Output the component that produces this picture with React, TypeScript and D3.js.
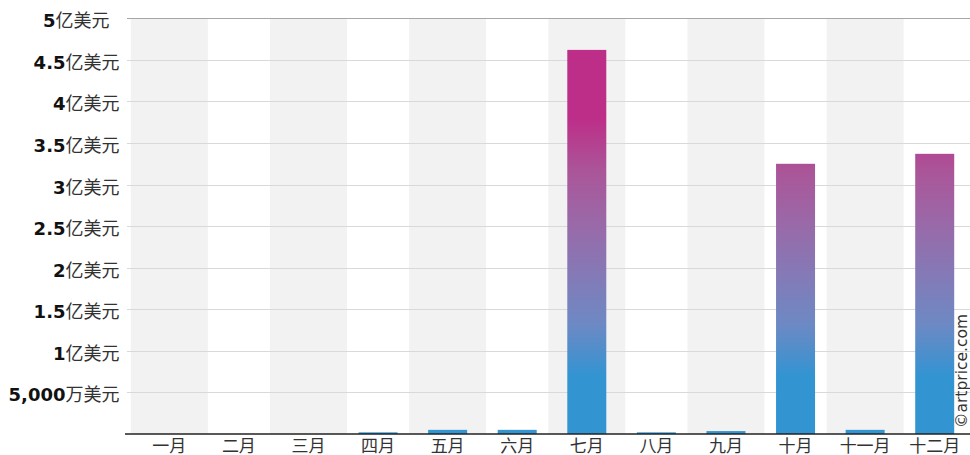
import React from "react";
import * as d3 from "d3";

const months = ["一月", "二月", "三月", "四月", "五月", "六月", "七月", "八月", "九月", "十月", "十一月", "十二月"];
const sales = [0, 0, 0, 2000000, 5000000, 5000000, 462000000, 2000000, 3500000, 325000000, 5000000, 337000000];
const tickValues = [50000000, 100000000, 150000000, 200000000, 250000000, 300000000, 350000000, 400000000, 450000000, 500000000];
const tickNumbers = ["5,000", "1", "1.5", "2", "2.5", "3", "3.5", "4", "4.5", "5"];
const tickUnits = ["万美元", "亿美元", "亿美元", "亿美元", "亿美元", "亿美元", "亿美元", "亿美元", "亿美元", "亿美元"];
const gradientStops = [
  { offset: 0, color: "#BD2E88" },
  { offset: 0.21, color: "#AA5699" },
  { offset: 0.41, color: "#9A69A8" },
  { offset: 0.6, color: "#8579B6" },
  { offset: 0.8, color: "#6D89C4" },
  { offset: 1, color: "#3394D2" },
];

const W = 970;
const H = 455;
const FONT = "Verdana, 'DejaVu Sans', 'Noto Sans CJK SC', sans-serif";
const CJK = "'Noto Sans CJK SC', sans-serif";

export default function App() {
  const x = d3.scaleBand<string>().domain(months).range([134.5, 969.5]).padding(0);
  const y = d3.scaleLinear().domain([0, 500000000]).range([434, 18.3]);
  const step = x.step();
  const barW = 39;
  const bandW = 77;
  const gy1 = y(380000000);
  const gy2 = y(70000000);

  return (
    <svg
      width={W}
      height={H}
      style={{ position: "absolute", left: 0, top: 0, background: "#fff" }}
      fontFamily={FONT}
    >
      <defs>
        <linearGradient id="barGrad" gradientUnits="userSpaceOnUse" x1={0} x2={0} y1={gy1} y2={gy2}>
          {gradientStops.map((s, i) => (
            <stop key={i} offset={s.offset} stopColor={s.color} />
          ))}
        </linearGradient>
        <clipPath id="plotClip">
          <rect x={130} y={18} width={W - 130} height={416} />
        </clipPath>
      </defs>

      {/* alternating bands */}
      <g clipPath="url(#plotClip)">
        {months.map((m, i) =>
          i % 2 === 0 ? (
            <rect
              key={m}
              x={(x(m) as number) + step / 2 - bandW / 2}
              y={y(500000000)}
              width={bandW}
              height={y(0) - y(500000000)}
              fill="#F2F2F2"
            />
          ) : null
        )}
      </g>

      {/* gridlines */}
      {tickValues.map((v, i) => (
        <line
          key={v}
          x1={127}
          x2={W}
          y1={Math.round(y(v)) + 0.5}
          y2={Math.round(y(v)) + 0.5}
          stroke={i === tickValues.length - 1 ? "#A6A6A6" : "#D9D9D9"}
          strokeWidth={1}
        />
      ))}

      {/* bars */}
      {months.map((m, i) =>
        sales[i] > 0 ? (
          <rect
            key={m}
            x={(x(m) as number) + step / 2 - barW / 2}
            y={y(sales[i])}
            width={barW}
            height={y(0) - y(sales[i])}
            fill="url(#barGrad)"
          />
        ) : null
      )}

      {/* x axis line */}
      <line x1={125} x2={W} y1={y(0)} y2={y(0)} stroke="#222" strokeWidth={1.5} />

      {/* y labels */}
      {tickValues.map((v, i) => (
        <text
          key={v}
          x={i === tickValues.length - 1 ? 109.5 : 119.5}
          y={y(v) + 9}
          textAnchor="end"
          fontSize={18}
        >
          <tspan fontWeight="bold" fill="#111">{tickNumbers[i]}</tspan>
          <tspan fill="#333" fontFamily={CJK}>{tickUnits[i]}</tspan>
        </text>
      ))}

      {/* x labels */}
      {months.map((m) => (
        <text
          key={m}
          x={(x(m) as number) + step / 2}
          y={452}
          textAnchor="middle"
          fontSize={17}
          fill="#333"
          fontFamily={CJK}
        >
          {m}
        </text>
      ))}

      {/* watermark */}
      <text
        transform="translate(967, 428) rotate(-90)"
        fontSize={15.5}
        fill="#333"
        textAnchor="start"
      >
        ©artprice.com
      </text>
    </svg>
  );
}
